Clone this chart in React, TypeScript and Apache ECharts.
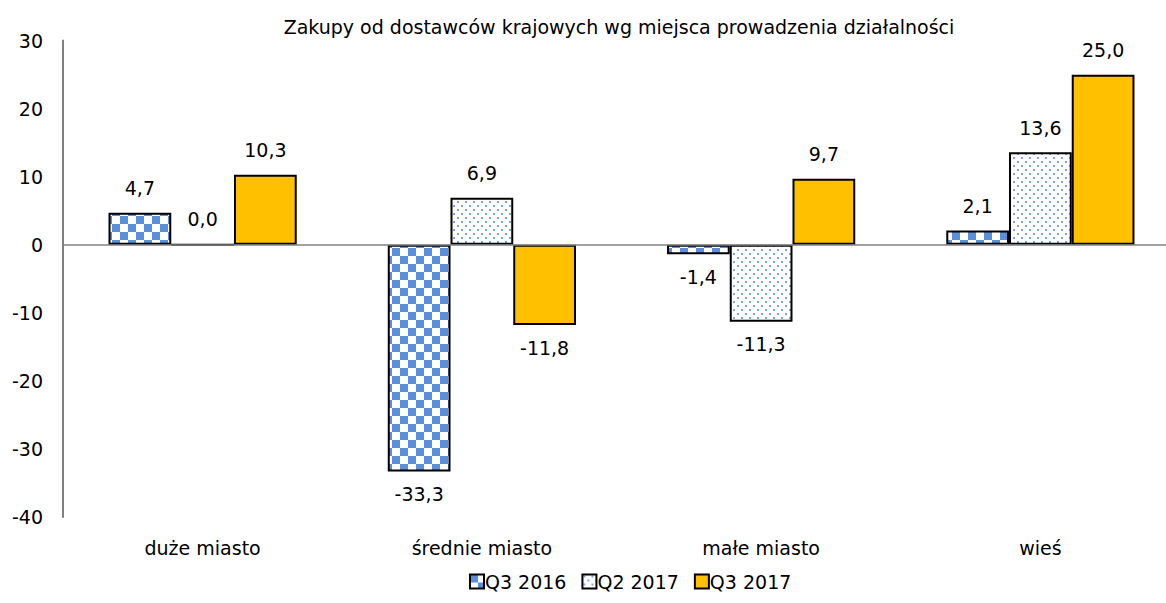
import React, { useEffect, useRef } from "react";
import * as echarts from "echarts";

const categories = ["duże miasto", "średnie miasto", "małe miasto", "wieś"];
const q3_2016 = [4.7, -33.3, -1.4, 2.1];
const q2_2017 = [0.0, 6.9, -11.3, 13.6];
const q3_2017 = [10.3, -11.8, 9.7, 25.0];
const seriesNames = ["Q3 2016", "Q2 2017", "Q3 2017"];
const yTicks = [-40, -30, -20, -10, 0, 10, 20, 30];

const FONT = "DejaVu Sans";

function checker(): HTMLCanvasElement {
  const c = document.createElement("canvas");
  const s = 8;
  c.width = s * 2;
  c.height = s * 2;
  const g = c.getContext("2d")!;
  g.fillStyle = "#ffffff";
  g.fillRect(0, 0, s * 2, s * 2);
  g.fillStyle = "#5B8FD9";
  g.fillRect(0, 0, s, s);
  g.fillRect(s, s, s, s);
  return c;
}

function dots(): HTMLCanvasElement {
  const c = document.createElement("canvas");
  c.width = 8;
  c.height = 8;
  const g = c.getContext("2d")!;
  g.fillStyle = "#ffffff";
  g.fillRect(0, 0, 8, 8);
  g.fillStyle = "#7FA8E3";
  g.fillRect(1, 1, 2, 2);
  g.fillRect(5, 5, 2, 2);
  return c;
}

const fmt = (v: number) => v.toFixed(1).replace(".", ",");

export default function App() {
  const ref = useRef<HTMLDivElement>(null);
  useEffect(() => {
    if (!ref.current) return;
    const chart = echarts.init(ref.current, undefined, { renderer: "svg" });
    const fills: any[] = [
      { image: checker(), repeat: "repeat" },
      { image: dots(), repeat: "repeat" },
      "#FFC000",
    ];
    const datas = [q3_2016, q2_2017, q3_2017];
    const series = datas.map((arr, i) => ({
      name: seriesNames[i],
      type: "bar",
      barGap: "0%",
      barCategoryGap: "32.6%",
      itemStyle: { color: fills[i], borderColor: "#000", borderWidth: 2 },
      label: {
        show: true,
        fontFamily: FONT,
        fontSize: 19,
        color: "#000",
        formatter: (p: any) => fmt(p.value),
      },
      data: arr.map((v) => ({
        value: v,
        label: { position: v < 0 ? "bottom" : "top", distance: v < 0 ? 13 : 15 },
      })),
      markLine:
        i === 0
          ? {
              silent: true,
              symbol: "none",
              label: { show: false },
              lineStyle: { color: "#808080", width: 1.5, type: "solid" },
              data: [{ yAxis: 0 }],
            }
          : undefined,
    }));
    chart.setOption({
      animation: false,
      backgroundColor: "#fff",
      title: {
        text: "Zakupy od dostawców krajowych wg miejsca prowadzenia działalności",
        left: 614,
        top: 12,
        textAlign: "center",
        textStyle: { fontFamily: FONT, fontSize: 19, fontWeight: "normal", color: "#000" },
      },
      legend: {
        data: seriesNames,
        icon: "rect",
        bottom: 7,
        left: 464,
        itemWidth: 14,
        itemHeight: 14,
        itemGap: 15,
        textStyle: { fontFamily: FONT, fontSize: 19, color: "#000", padding: [0, 0, 0, -4] },
      },
      grid: { left: 63, top: 40.6, width: 1117, bottom: 86, outerBoundsMode: "none" },
      xAxis: {
        type: "category",
        data: categories,
        axisLine: { show: false, onZero: false },
        axisTick: { show: false },
        axisLabel: { margin: 21, fontFamily: FONT, fontSize: 19, color: "#000" },
      },
      yAxis: {
        type: "value",
        min: yTicks[0],
        max: yTicks[yTicks.length - 1],
        interval: 10,
        axisLine: { show: true, lineStyle: { color: "#808080", width: 2 } },
        axisTick: { show: false },
        splitLine: { show: false },
        axisLabel: { margin: 20, fontFamily: FONT, fontSize: 19, color: "#000" },
      },
      series,
    });
    return () => chart.dispose();
  }, []);
  return (
    <div
      ref={ref}
      style={{ position: "absolute", left: 0, top: 0, width: 1166, height: 603, overflow: "hidden" }}
    />
  );
}
